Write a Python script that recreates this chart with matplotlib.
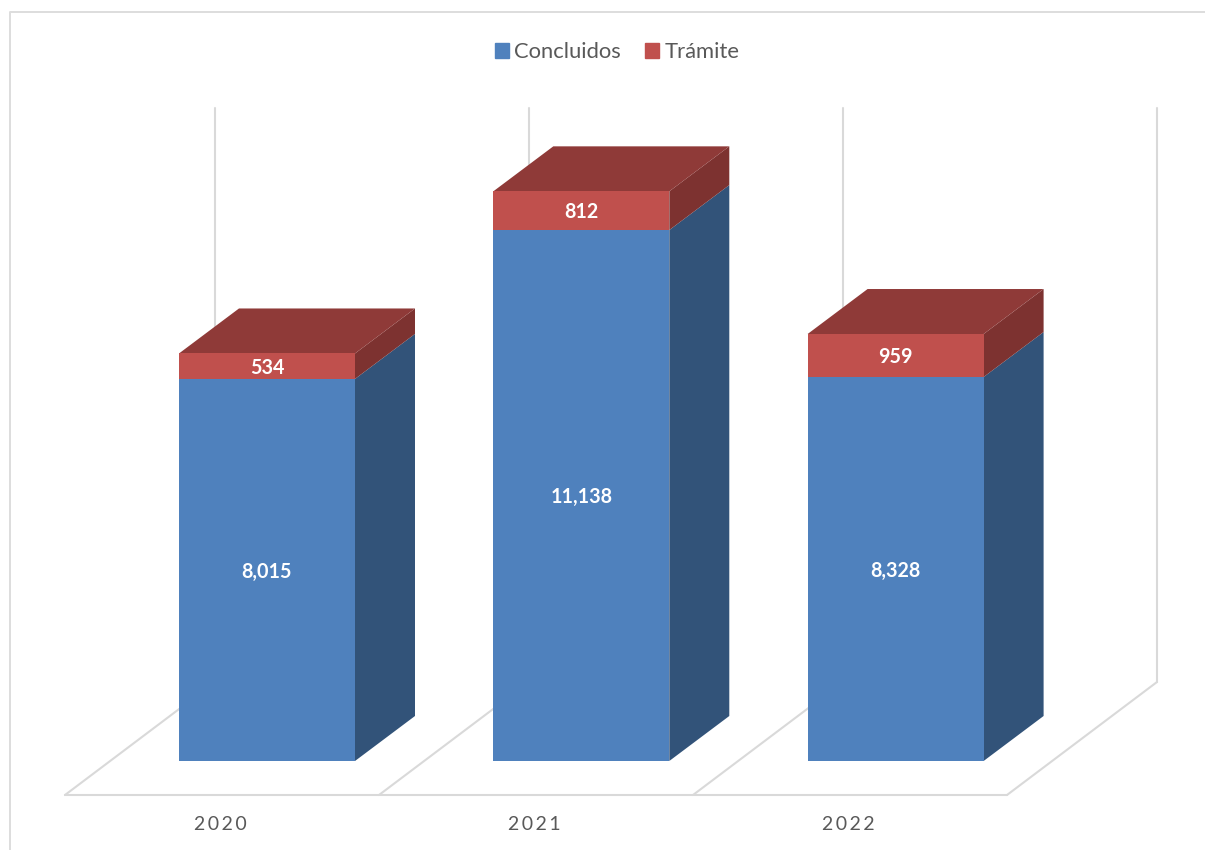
import matplotlib
matplotlib.use("Agg")
import matplotlib.pyplot as plt
from matplotlib.lines import Line2D
from matplotlib.patches import Patch

plt.rcParams['font.family'] = ['Lato', 'DejaVu Sans']

years = ['2020', '2021', '2022']
# heights as drawn in the picture (the 2022 bar is not to scale with its label)
concluidos = [8015, 11138, 8055]
tramite = [534, 812, 902]
concluidos_labels = ['8,015', '11,138', '8,328']
tramite_labels = ['534', '812', '959']

W, H = 1205, 850
PX_PER_CAT = 314.3
PX_PER_VAL = 0.04767
BAR_W = 176 / PX_PER_CAT
# fake 3d offsets, in axis units
DX = 60 / PX_PER_CAT
DY = 45 / PX_PER_VAL
FRONT_DX = 45 / PX_PER_CAT
FRONT_DY = 34 / PX_PER_VAL
FLOOR_BACK = 79 / PX_PER_VAL
WALL_TOP = 653 / PX_PER_VAL
WALL_STEP = 314 / PX_PER_CAT

BLUE, BLUE_SIDE = '#4F81BD', '#325379'
RED, RED_SIDE, RED_TOP = '#C0504D', '#7D3230', '#8F3A38'
GRID = '#D9D9D9'
TXT = '#595959'

fig = plt.figure(figsize=(W / 100, H / 100), dpi=100, facecolor='white')
ax = fig.add_axes([0, 1 - 795 / H, 1, 795 / H])
ax.set_xlim(-267 / PX_PER_CAT, (W - 267) / PX_PER_CAT)
ax.set_ylim(-FRONT_DY, 761 / PX_PER_VAL)
for s in ax.spines.values():
    s.set_visible(False)
ax.set_yticks([])

# chart frame, cropped on the right and bottom
fig.add_artist(Line2D([10 / W, 10 / W, 1], [0, 1 - 12 / H, 1 - 12 / H], color='#DDDDDD', lw=1.4))

# floor and back wall
pos = list(range(len(years)))
half = BAR_W / 2
grid_kw = dict(color=GRID, lw=1.5, zorder=1, solid_capstyle='round')
wall_x = [-52 / PX_PER_CAT + i * WALL_STEP for i in range(len(years) + 1)]
front_x = [x - 150 / PX_PER_CAT for x in wall_x]
for wx, fx in zip(wall_x, front_x):
    ax.plot([wx, wx], [FLOOR_BACK, WALL_TOP], **grid_kw)
    ax.plot([fx, wx], [-FRONT_DY, FLOOR_BACK], clip_on=False, **grid_kw)
ax.plot([front_x[0], front_x[-1]], [-FRONT_DY, -FRONT_DY], clip_on=False, **grid_kw)

# front faces
ax.bar(pos, concluidos, width=BAR_W, color=BLUE, zorder=3)
ax.bar(pos, tramite, width=BAR_W, bottom=concluidos, color=RED, zorder=3)

# side and top faces, plus the value labels
label_kw = dict(color='white', fontsize=14.2, fontweight='bold', ha='center', va='center',
                zorder=4, textcoords='offset points', xytext=(0, -1.2))
for i, (c, t) in enumerate(zip(concluidos, tramite)):
    xr = i + half
    xl = i - half
    ax.fill([xr, xr + DX, xr + DX, xr], [0, DY, c + DY, c], color=BLUE_SIDE, lw=0, zorder=2)
    ax.fill([xr, xr + DX, xr + DX, xr], [c, c + DY, c + t + DY, c + t], color=RED_SIDE, lw=0, zorder=2)
    ax.fill([xl, xl + DX, xr + DX, xr], [c + t, c + t + DY, c + t + DY, c + t], color=RED_TOP, lw=0, zorder=2)
    ax.annotate(concluidos_labels[i], (i, c / 2), **label_kw)
    ax.annotate(tramite_labels[i], (i, c + t / 2), **label_kw)

# year labels, letter spaced as in the original
ax.set_xticks([p - FRONT_DX - 2 / PX_PER_CAT for p in pos])
ax.set_xticklabels(['\u2009'.join(y) for y in years], color=TXT, fontsize=14)
ax.tick_params(axis='x', length=0, pad=15)

handles = [Patch(color=BLUE, label='Concluidos'), Patch(color=RED, label='Trámite')]
leg = fig.legend(handles=handles, loc='center', bbox_to_anchor=(617 / W, 1 - 52 / H), ncol=2,
                 frameon=False, fontsize=15.8, labelcolor=TXT, handlelength=0.66, handleheight=0.66,
                 handletextpad=0.22, columnspacing=1.09, borderpad=0)

fig.savefig('out.png', dpi=100, facecolor='white')
